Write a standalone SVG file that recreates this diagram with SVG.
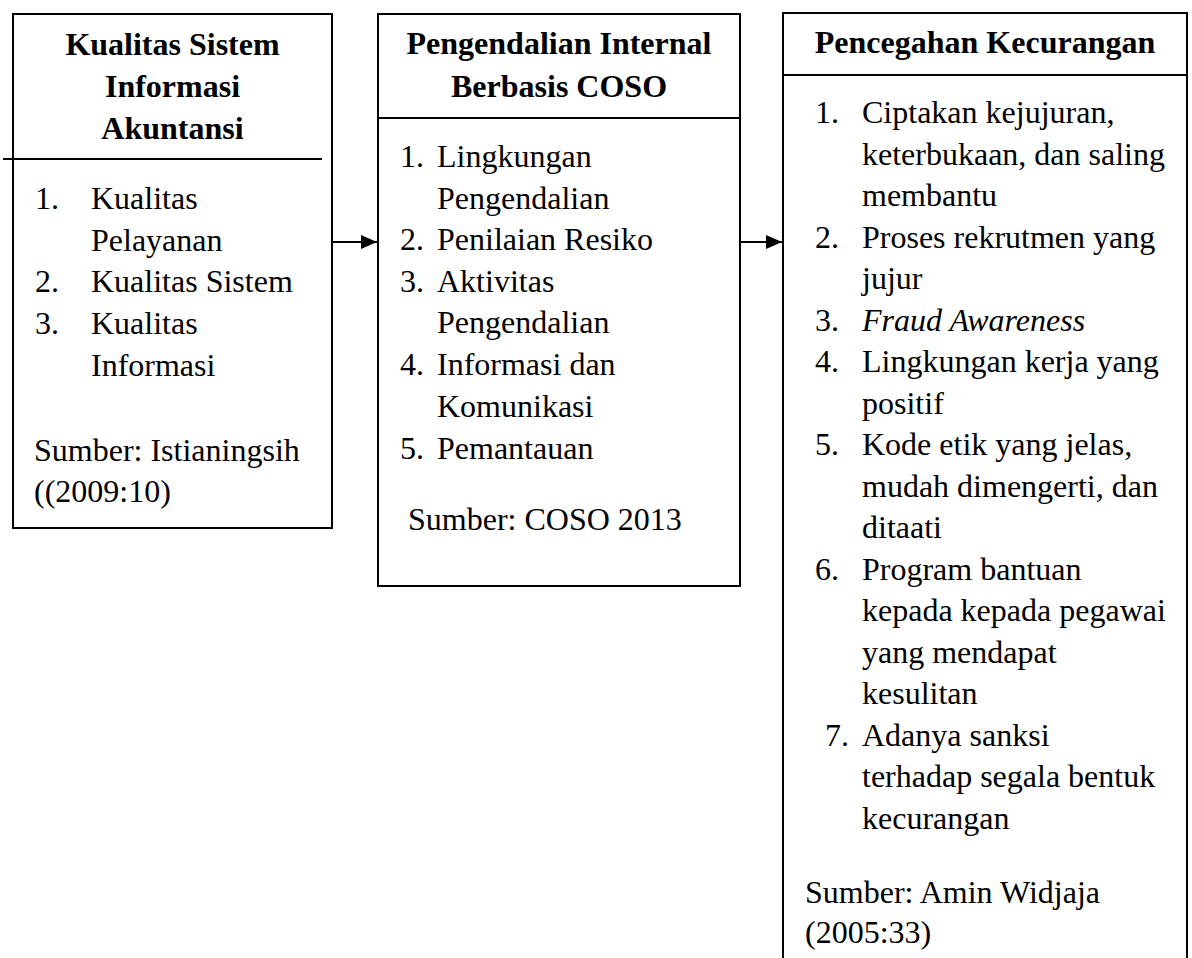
<svg xmlns="http://www.w3.org/2000/svg" width="1192" height="958" viewBox="0 0 1192 958">
<defs>
<style>
.box{fill:#fff;stroke:#000;stroke-width:2}
.ln{stroke:#000;stroke-width:2;fill:none}
text{font-family:"Liberation Serif","Times New Roman",serif;font-size:32px;fill:#000}
.t{font-weight:bold;text-anchor:middle}
.i{font-style:italic}
</style>
<marker id="ah" markerUnits="userSpaceOnUse" markerWidth="16" markerHeight="14" refX="16" refY="7" orient="auto">
<path d="M0,0 L16,7 L0,14 Z" fill="#000"/>
</marker>
</defs>
<rect width="1192" height="958" fill="#fff"/>
<g id="node-sia">
<rect class="box" x="13" y="14" width="319" height="514"/>
<line class="ln" x1="3" y1="159" x2="322" y2="159"/>
<text class="t" x="172.5" y="55">Kualitas Sistem</text>
<text class="t" x="172.5" y="97">Informasi</text>
<text class="t" x="172.5" y="139">Akuntansi</text>
<text x="35" y="209">1.</text><text x="91" y="209">Kualitas</text>
<text x="91" y="251">Pelayanan</text>
<text x="35" y="292">2.</text><text x="91" y="292">Kualitas Sistem</text>
<text x="35" y="334">3.</text><text x="91" y="334">Kualitas</text>
<text x="91" y="376">Informasi</text>
<text x="34" y="461">Sumber: Istianingsih</text>
<text x="34" y="502">((2009:10)</text>
</g>
<g id="node-coso">
<rect class="box" x="378" y="14" width="362" height="572"/>
<line class="ln" x1="378" y1="118" x2="740" y2="118"/>
<text class="t" x="559" y="54">Pengendalian Internal</text>
<text class="t" x="559" y="97">Berbasis COSO</text>
<text x="400" y="167">1.</text><text x="437" y="167">Lingkungan</text>
<text x="437" y="208.5">Pengendalian</text>
<text x="400" y="250">2.</text><text x="437" y="250">Penilaian Resiko</text>
<text x="400" y="291.5">3.</text><text x="437" y="291.5">Aktivitas</text>
<text x="437" y="333">Pengendalian</text>
<text x="400" y="375">4.</text><text x="437" y="375">Informasi dan</text>
<text x="437" y="417">Komunikasi</text>
<text x="400" y="459">5.</text><text x="437" y="459">Pemantauan</text>
<text x="408" y="530">Sumber: COSO 2013</text>
</g>
<g id="node-fraud">
<rect class="box" x="783" y="13" width="404" height="970"/>
<line class="ln" x1="783" y1="75" x2="1187" y2="75"/>
<text class="t" x="985" y="53">Pencegahan Kecurangan</text>
<text x="815" y="123">1.</text><text x="862" y="123">Ciptakan kejujuran,</text>
<text x="862" y="164.5">keterbukaan, dan saling</text>
<text x="862" y="206">membantu</text>
<text x="815" y="247.5">2.</text><text x="862" y="247.5">Proses rekrutmen yang</text>
<text x="862" y="289">jujur</text>
<text x="815" y="330.5">3.</text><text class="i" x="862" y="330.5">Fraud Awareness</text>
<text x="815" y="372">4.</text><text x="862" y="372">Lingkungan kerja yang</text>
<text x="862" y="413.5">positif</text>
<text x="815" y="455">5.</text><text x="862" y="455">Kode etik yang jelas,</text>
<text x="862" y="496.5">mudah dimengerti, dan</text>
<text x="862" y="538">ditaati</text>
<text x="815" y="579.5">6.</text><text x="862" y="579.5">Program bantuan</text>
<text x="862" y="621">kepada kepada pegawai</text>
<text x="862" y="662.5">yang mendapat</text>
<text x="862" y="704">kesulitan</text>
<text x="825" y="745.5">7.</text><text x="862" y="745.5">Adanya sanksi</text>
<text x="862" y="787">terhadap segala bentuk</text>
<text x="862" y="828.5">kecurangan</text>
<text x="805" y="903">Sumber: Amin Widjaja</text>
<text x="805" y="943">(2005:33)</text>
</g>
<g id="connectors">
<line class="ln" x1="333" y1="242" x2="377" y2="242" marker-end="url(#ah)"/>
<line class="ln" x1="741" y1="242" x2="782" y2="242" marker-end="url(#ah)"/>
</g>
</svg>
